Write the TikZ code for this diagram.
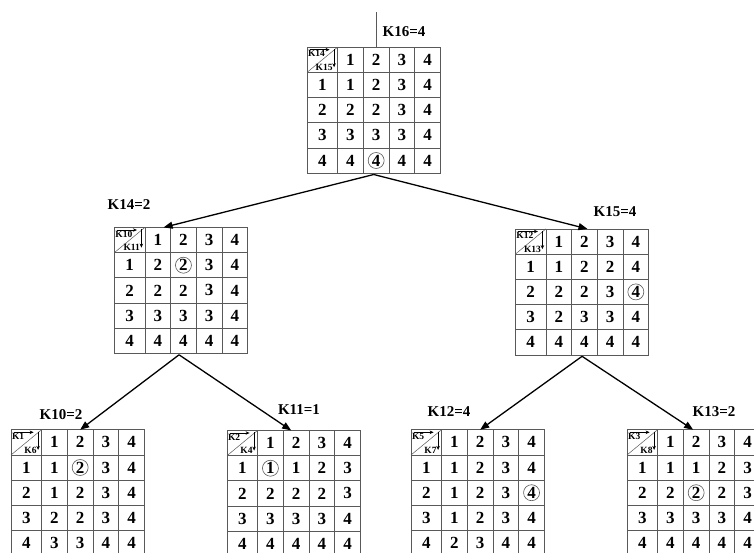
\documentclass[tikz,border=0pt]{standalone}
\usepackage{fontspec}
\setmainfont{Liberation Serif}
\usetikzlibrary{matrix,arrows.meta,calc}
\definecolor{gridc}{gray}{0.35}
\newcommand\hdrcell[3]{%
  \draw[line width=0.5pt, draw=gridc] (#1-1-1.south west) -- (#1-1-1.north east);
  \node[hdr, anchor=north west] (#1-ha) at ([xshift=0.8pt,yshift=-3.2pt]#1-1-1.north west) {#2};
  \node[hdr, anchor=south east] (#1-hb) at ([xshift=-4.8pt,yshift=1.5pt]#1-1-1.south east) {#3};
  \draw[harrow] ([xshift=3pt,yshift=-2.6pt]#1-1-1.north west) -- ([xshift=-8pt,yshift=-2.6pt]#1-1-1.north east);
  \draw[harrow] ([xshift=-3.5pt,yshift=-2pt]#1-1-1.north east) -- ([xshift=-3.5pt,yshift=5pt]#1-1-1.south east);
}
\begin{document}
\begin{tikzpicture}[x=1pt,y=-1pt,
  cell/.style={draw=gridc, line width=0.8pt, minimum width=25.7pt, minimum height=25.2pt,
    inner sep=0pt, font=\fontsize{17}{17}\selectfont\bfseries, anchor=center},
  tbl/.style={matrix of nodes, nodes in empty cells, nodes={cell}, column sep=-0.8pt, row sep=-0.8pt,
    anchor=north west, inner sep=0pt, outer sep=0pt, column 1/.style={nodes={minimum width=30.5pt}}},
  lbl/.style={font=\fontsize{15}{15}\selectfont\bfseries, inner sep=0pt},
  hdr/.style={font=\fontsize{9.5}{9.5}\selectfont\bfseries, inner sep=0pt},
  harrow/.style={line width=0.7pt, -{Stealth[length=4pt,width=3.5pt]}},
  circ/.style={circle, draw=gridc, line width=0.6pt, minimum size=16pt, inner sep=0pt},
  conn/.style={line width=1.3pt, -{Triangle[length=9pt,width=7pt]}},
]
\path[use as bounding box, clip] (0,0) rectangle (754,552);
\fill[white] (0,0) rectangle (754,552);

% tables
\matrix (T16) [tbl] at (306.7,46.7) {
 & 1 & 2 & 3 & 4 \\
1 & 1 & 2 & 3 & 4 \\
2 & 2 & 2 & 3 & 4 \\
3 & 3 & 3 & 3 & 4 \\
4 & 4 & 4 & 4 & 4 \\
};
\matrix (T14) [tbl] at (114,227) {
 & 1 & 2 & 3 & 4 \\
1 & 2 & 2 & 3 & 4 \\
2 & 2 & 2 & 3 & 4 \\
3 & 3 & 3 & 3 & 4 \\
4 & 4 & 4 & 4 & 4 \\
};
\matrix (T15) [tbl] at (515,228.5) {
 & 1 & 2 & 3 & 4 \\
1 & 1 & 2 & 2 & 4 \\
2 & 2 & 2 & 3 & 4 \\
3 & 2 & 3 & 3 & 4 \\
4 & 4 & 4 & 4 & 4 \\
};
\matrix (T10) [tbl] at (10.7,429.3) {
 & 1 & 2 & 3 & 4 \\
1 & 1 & 2 & 3 & 4 \\
2 & 1 & 2 & 3 & 4 \\
3 & 2 & 2 & 3 & 4 \\
4 & 3 & 3 & 4 & 4 \\
};
\matrix (T11) [tbl] at (226.7,430) {
 & 1 & 2 & 3 & 4 \\
1 & 1 & 1 & 2 & 3 \\
2 & 2 & 2 & 2 & 3 \\
3 & 3 & 3 & 3 & 4 \\
4 & 4 & 4 & 4 & 4 \\
};
\matrix (T12) [tbl] at (410.7,429.3) {
 & 1 & 2 & 3 & 4 \\
1 & 1 & 2 & 3 & 4 \\
2 & 1 & 2 & 3 & 4 \\
3 & 1 & 2 & 3 & 4 \\
4 & 2 & 3 & 4 & 4 \\
};
\matrix (T13) [tbl] at (626.7,429.3) {
 & 1 & 2 & 3 & 4 \\
1 & 1 & 1 & 2 & 3 \\
2 & 2 & 2 & 2 & 3 \\
3 & 3 & 3 & 3 & 4 \\
4 & 4 & 4 & 4 & 4 \\
};

% header cells
\hdrcell{T16}{K14}{K15}
\hdrcell{T14}{K10}{K11}
\hdrcell{T15}{K12}{K13}
\hdrcell{T10}{K1}{K6}
\hdrcell{T11}{K2}{K4}
\hdrcell{T12}{K5}{K7}
\hdrcell{T13}{K3}{K8}

% circled values
\node[circ] (c16) at (T16-5-3) {};
\node[circ] (c14) at (T14-2-3) {};
\node[circ] (c15) at (T15-3-5) {};
\node[circ] (c10) at (T10-2-3) {};
\node[circ] (c11) at (T11-2-2) {};
\node[circ] (c12) at (T12-3-5) {};
\node[circ] (c13) at (T13-3-3) {};

% labels
\node[lbl] (L16) at (404,32) {K16=4};
\node[lbl] (L14) at (129,205) {K14=2};
\node[lbl] (L15) at (615,212) {K15=4};
\node[lbl] (L10) at (61,415) {K10=2};
\node[lbl] (L11) at (299,410) {K11=1};
\node[lbl] (L12) at (449,412) {K12=4};
\node[lbl] (L13) at (714,412) {K13=2};

% connectors
\coordinate (topend) at ([yshift=35pt]T16-1-3.north);
\draw[line width=0.8pt, draw=gridc] (T16-1-3.north) -- (topend);
\draw[conn] ([yshift=-1pt]T16.south) -- ([xshift=-7pt]T14-1-2.north east);
\draw[conn] ([yshift=-1pt]T16.south) -- ([xshift=3pt]T15-1-3.north);
\draw[conn] ([xshift=-2pt,yshift=-1pt]T14.south) -- (T10-1-3.north);
\draw[conn] ([xshift=-2pt,yshift=-1pt]T14.south) -- ([xshift=-5pt]T11-1-3.north);
\draw[conn] ([yshift=-1pt]T15.south) -- (T12-1-3.north);
\draw[conn] ([yshift=-1pt]T15.south) -- ([xshift=-3pt]T13-1-3.north);
\end{tikzpicture}
\end{document}
